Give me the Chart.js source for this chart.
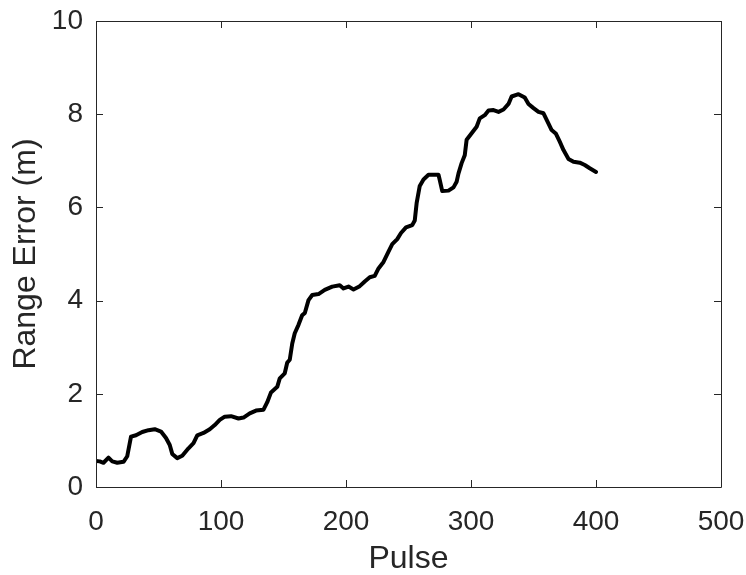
<!DOCTYPE html>
<html lang="en">
  <head>
    <meta charset="UTF-8" />
    <title>Range Error vs Pulse</title>
    <script src="https://cdn.jsdelivr.net/npm/chart.js@4"></script>
    <style>
      body { margin: 0; background: #fff; }
    </style>
  </head>
  <body>
    <canvas id="myChart" width="746" height="575"></canvas>
    <script>
      // pulse index and range error (m)
      const pulses = [0, 3, 6, 10, 13, 17, 22, 25, 28, 32, 37, 42, 47, 52, 56, 59, 61, 65, 69, 74,
        78, 81, 86, 91, 95, 99, 103, 108, 114, 118, 123, 128, 134, 137, 140, 145, 147, 151, 153, 155,
        157, 159, 162, 165, 167, 170, 173, 178, 183, 189, 195, 198, 202, 206, 211, 215, 219, 223, 226, 230,
        234, 237, 241, 244, 248, 253, 255, 256.5, 259, 262, 266, 274, 275, 277, 282, 286, 288.5, 290, 292.5, 295,
        296.5, 300.5, 304.5, 307, 311, 314, 318, 322, 326, 330, 332.5, 338, 343, 346, 350, 354, 358, 362, 364.5, 368,
        371, 374, 378, 382, 387, 391, 395, 400];
      const rangeError = [0.56, 0.55, 0.52, 0.63, 0.55, 0.52, 0.54, 0.66, 1.08, 1.11, 1.18, 1.22, 1.24, 1.19, 1.05, 0.90, 0.71, 0.62, 0.67, 0.83,
        0.94, 1.11, 1.16, 1.24, 1.33, 1.44, 1.51, 1.52, 1.47, 1.49, 1.58, 1.64, 1.66, 1.82, 2.03, 2.15, 2.33, 2.44, 2.67, 2.73,
        3.08, 3.30, 3.48, 3.69, 3.73, 4.01, 4.12, 4.14, 4.23, 4.30, 4.33, 4.26, 4.30, 4.24, 4.31, 4.41, 4.50, 4.53, 4.69, 4.83,
        5.05, 5.21, 5.32, 5.45, 5.57, 5.62, 5.72, 6.09, 6.46, 6.60, 6.70, 6.70, 6.59, 6.35, 6.36, 6.43, 6.55, 6.73, 6.95, 7.12,
        7.45, 7.59, 7.73, 7.91, 7.98, 8.08, 8.09, 8.05, 8.10, 8.22, 8.38, 8.43, 8.36, 8.22, 8.13, 8.05, 8.02, 7.80, 7.66, 7.58,
        7.41, 7.23, 7.04, 6.98, 6.96, 6.91, 6.84, 6.76];
      const xTicks = [0, 100, 200, 300, 400, 500];
      const yTicks = [0, 2, 4, 6, 8, 10];

      const axisColor = '#262626';
      const fontFamily = "'Liberation Sans', Arial, Helvetica, sans-serif";

      // box around the axes with inward ticks on all four sides
      const boxPlugin = {
        id: 'box',
        afterDraw(chart) {
          const { ctx, chartArea: a, scales } = chart;
          const len = 7;
          ctx.save();
          ctx.strokeStyle = axisColor;
          ctx.lineWidth = 1;
          ctx.beginPath();
          ctx.rect(Math.round(a.left) + 0.5, Math.round(a.top) + 0.5,
                   Math.round(a.right - a.left), Math.round(a.bottom - a.top));
          xTicks.forEach(v => {
            const px = Math.round(scales.x.getPixelForValue(v)) + 0.5;
            ctx.moveTo(px, a.bottom); ctx.lineTo(px, a.bottom - len);
            ctx.moveTo(px, a.top); ctx.lineTo(px, a.top + len);
          });
          yTicks.forEach(v => {
            const py = Math.round(scales.y.getPixelForValue(v)) + 0.5;
            ctx.moveTo(a.left, py); ctx.lineTo(a.left + len, py);
            ctx.moveTo(a.right, py); ctx.lineTo(a.right - len, py);
          });
          ctx.stroke();
          ctx.restore();
        }
      };

      const ctx = document.getElementById('myChart').getContext('2d');
      const myChart = new Chart(ctx, {
        type: 'line',
        data: {
          datasets: [{
            data: pulses.map((p, i) => ({ x: p, y: rangeError[i] })),
            borderColor: '#000',
            borderWidth: 4,
            borderJoinStyle: 'round',
            borderCapStyle: 'round',
            pointRadius: 0,
            fill: false,
            tension: 0
          }]
        },
        options: {
          responsive: false,
          animation: false,
          layout: { padding: { top: 21, right: 25, left: 0, bottom: 0 } },
          plugins: { legend: { display: false }, tooltip: { enabled: false } },
          scales: {
            x: {
              type: 'linear',
              min: 0, max: 500,
              afterFit: s => { s.height = 88; s.paddingLeft = 0; s.paddingRight = 0; },
              afterBuildTicks: s => { s.ticks = xTicks.map(v => ({ value: v })); },
              grid: { display: false, drawTicks: false },
              border: { display: false },
              ticks: { color: axisColor, padding: 18, maxRotation: 0,
                       font: { family: fontFamily, size: 28 } },
              title: { display: true, text: 'Pulse', color: axisColor,
                       padding: { top: 0, bottom: 0 },
                       font: { family: fontFamily, size: 32, lineHeight: 1 } }
            },
            y: {
              min: 0, max: 10,
              afterFit: s => { s.width = 96; s.paddingTop = 0; s.paddingBottom = 0; },
              afterBuildTicks: s => { s.ticks = yTicks.map(v => ({ value: v })); },
              grid: { display: false, drawTicks: false },
              border: { display: false },
              ticks: { color: axisColor, padding: 13,
                       font: { family: fontFamily, size: 28 } },
              title: { display: true, text: 'Range Error (m)', color: axisColor,
                       padding: { top: 10, bottom: 0 },
                       font: { family: fontFamily, size: 32, lineHeight: 1 } }
            }
          }
        },
        plugins: [boxPlugin]
      });
    </script>
  </body>
</html>
